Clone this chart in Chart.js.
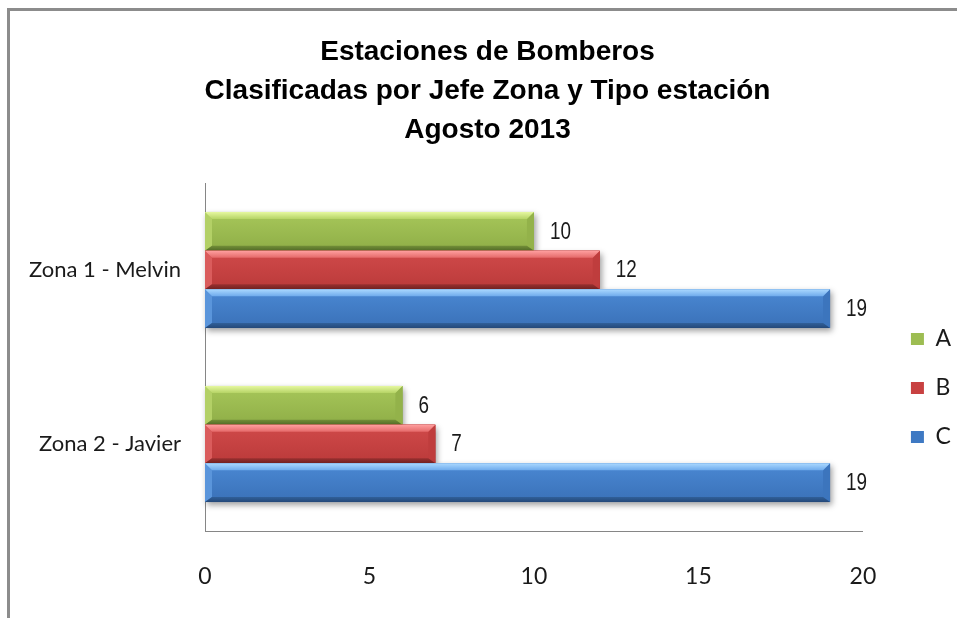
<!DOCTYPE html>
<html>
<head>
<meta charset="utf-8">
<script src="https://cdn.jsdelivr.net/npm/chart.js@4.4.1/dist/chart.umd.min.js"></script>
<style>
  html, body { margin: 0; padding: 0; background: #ffffff; }
  #wrap { position: relative; width: 957px; height: 618px; overflow: hidden; background: #ffffff; }
  #wrap canvas { position: absolute; left: 0; top: 0; }
  #frame { position: absolute; left: 7px; top: 8px; right: -10px; bottom: -10px;
           border-top: 3px solid #8c8c8c; border-left: 3px solid #8c8c8c; pointer-events: none; }
</style>
</head>
<body>
<div id="wrap">
  <canvas id="chart" width="957" height="618"></canvas>
  <div id="frame"></div>
</div>
<script>
// Chart text and values
const titleLines = ['Estaciones de Bomberos', 'Clasificadas por Jefe Zona y Tipo estación', 'Agosto 2013'];
const zonas = ['Zona 1 - Melvin', 'Zona 2 - Javier'];
const tipos = ['A', 'B', 'C'];
const tipoA = [10, 6];
const tipoB = [12, 7];
const tipoC = [19, 19];
const xTicks = [0, 5, 10, 15, 20];

// Styling
const AXIS_FONT = 'Lato, "Open Sans", sans-serif';
const VALUE_FONT = '"Liberation Sans", Arial, sans-serif';
const PAD_L = 12, PAD_R = 18;
const palette = [
  { main: '#9dbd52', top0: '#e6f8a0', top1: '#b6d466', body0: '#a7c75a', body1: '#8fae47',
    bot0: '#728f38', bot1: '#566f29', left: '#b3d066', right: '#93b24a' },
  { main: '#c84141', top0: '#ffa0a0', top1: '#e56a6a', body0: '#d04a4a', body1: '#bb3a3a',
    bot0: '#983030', bot1: '#772323', left: '#da5c5c', right: '#bf3d3d' },
  { main: '#3e79c3', top0: '#aad8ff', top1: '#6eaaec', body0: '#4a88d3', body1: '#3a71b8',
    bot0: '#305f99', bot1: '#244878', left: '#5a95db', right: '#3c75bd' }
];

// Beveled, shadowed bar faces painted over each bar element
const bevelBars = {
  id: 'bevelBars',
  afterDatasetsDraw(chart) {
    const ctx = chart.ctx;
    chart.data.datasets.forEach((ds, di) => {
      const meta = chart.getDatasetMeta(di);
      if (meta.hidden) return;
      const c = palette[di];
      meta.data.forEach(el => {
        const p = el.getProps(['x', 'y', 'base', 'height'], true);
        const L = Math.min(p.base, p.x), R = Math.max(p.base, p.x);
        const T = p.y - p.height / 2, B = p.y + p.height / 2;
        const bt = 7, bb = 5, bs = 7;

        ctx.save();
        ctx.shadowColor = 'rgba(0,0,0,0.38)';
        ctx.shadowBlur = 6;
        ctx.shadowOffsetX = 2;
        ctx.shadowOffsetY = 3;
        ctx.fillStyle = c.body1;
        ctx.fillRect(L, T, R - L, B - T);
        ctx.restore();

        ctx.save();
        let g = ctx.createLinearGradient(0, T, 0, B);
        g.addColorStop(0, c.body0);
        g.addColorStop(1, c.body1);
        ctx.fillStyle = g;
        ctx.fillRect(L, T, R - L, B - T);

        const poly = (pts, fill) => {
          ctx.beginPath();
          ctx.moveTo(pts[0][0], pts[0][1]);
          for (let i = 1; i < pts.length; i++) ctx.lineTo(pts[i][0], pts[i][1]);
          ctx.closePath();
          ctx.fillStyle = fill;
          ctx.fill();
        };
        // left and right end facets
        poly([[L, T], [L + bs, T + bt], [L + bs, B - bb], [L, B]], c.left);
        poly([[R, T], [R - bs, T + bt], [R - bs, B - bb], [R, B]], c.right);
        // top facet
        g = ctx.createLinearGradient(0, T, 0, T + bt);
        g.addColorStop(0, c.top0);
        g.addColorStop(1, c.top1);
        poly([[L, T], [R, T], [R - bs, T + bt], [L + bs, T + bt]], g);
        // bottom facet
        g = ctx.createLinearGradient(0, B - bb, 0, B);
        g.addColorStop(0, c.bot0);
        g.addColorStop(1, c.bot1);
        poly([[L, B], [R, B], [R - bs, B - bb], [L + bs, B - bb]], g);
        ctx.restore();
      });
    });
  }
};

// Value labels at the end of each bar, in a narrowed face
const valueLabels = {
  id: 'valueLabels',
  afterDatasetsDraw(chart) {
    const ctx = chart.ctx;
    chart.data.datasets.forEach((ds, di) => {
      const meta = chart.getDatasetMeta(di);
      if (meta.hidden) return;
      meta.data.forEach((el, i) => {
        const p = el.getProps(['x', 'y'], true);
        ctx.save();
        ctx.translate(p.x + 16, p.y + 1);
        ctx.scale(0.82, 1);
        ctx.font = '23px ' + VALUE_FONT;
        ctx.fillStyle = '#1a1a1a';
        ctx.textAlign = 'left';
        ctx.textBaseline = 'middle';
        ctx.fillText(String(ds.data[i]), 0, 0);
        ctx.restore();
      });
    });
  }
};

// Places the title and legend boxes after layout
const boxPlacement = {
  id: 'boxPlacement',
  afterLayout(chart) {
    const tb = chart.titleBlock;
    if (tb) { tb.left += 12; tb.right += 12; }
    const lg = chart.legend;
    if (lg) {
      lg.left += 22; lg.right += 22;
      lg.top += 79; lg.bottom += 79;
    }
  }
};

const seriesValues = [tipoA, tipoB, tipoC];

new Chart(document.getElementById('chart'), {
  type: 'bar',
  data: {
    labels: zonas,
    datasets: tipos.map((t, i) => ({
      label: t,
      data: seriesValues[i],
      backgroundColor: palette[i].main,
      borderWidth: 0,
      barPercentage: 1,
      categoryPercentage: 0.667
    }))
  },
  options: {
    indexAxis: 'y',
    responsive: false,
    animation: false,
    devicePixelRatio: 1,
    layout: { padding: { top: 0, left: PAD_L, right: PAD_R, bottom: 0 } },
    scales: {
      x: {
        type: 'linear',
        min: 0,
        max: 20,
        grid: { display: false, drawTicks: false },
        border: { display: true, color: '#868686', width: 1 },
        ticks: { font: { family: AXIS_FONT, size: 23 }, color: '#1a1a1a', padding: 32 },
        afterBuildTicks(scale) { scale.ticks = xTicks.map(v => ({ value: v })); },
        afterFit(scale) { scale.height = 87; }
      },
      y: {
        type: 'category',
        grid: { display: false, drawTicks: false },
        border: { display: true, color: '#868686', width: 1 },
        ticks: { font: { family: AXIS_FONT, size: 22 }, color: '#1a1a1a', padding: 24 },
        afterFit(scale) { scale.width = 205 - PAD_L; }
      }
    },
    plugins: {
      title: {
        display: true,
        text: titleLines,
        color: '#000000',
        font: { family: '"Liberation Sans", Arial, sans-serif', size: 28, weight: 'bold', lineHeight: 39 / 28 },
        padding: { top: 33, bottom: 33 }
      },
      legend: {
        position: 'right',
        align: 'center',
        labels: {
          font: { family: AXIS_FONT, size: 23 },
          color: '#1a1a1a',
          boxWidth: 13,
          boxHeight: 12,
          padding: 26
        }
      },
      tooltip: { enabled: false }
    }
  },
  plugins: [bevelBars, valueLabels, boxPlacement]
});
</script>
</body>
</html>
